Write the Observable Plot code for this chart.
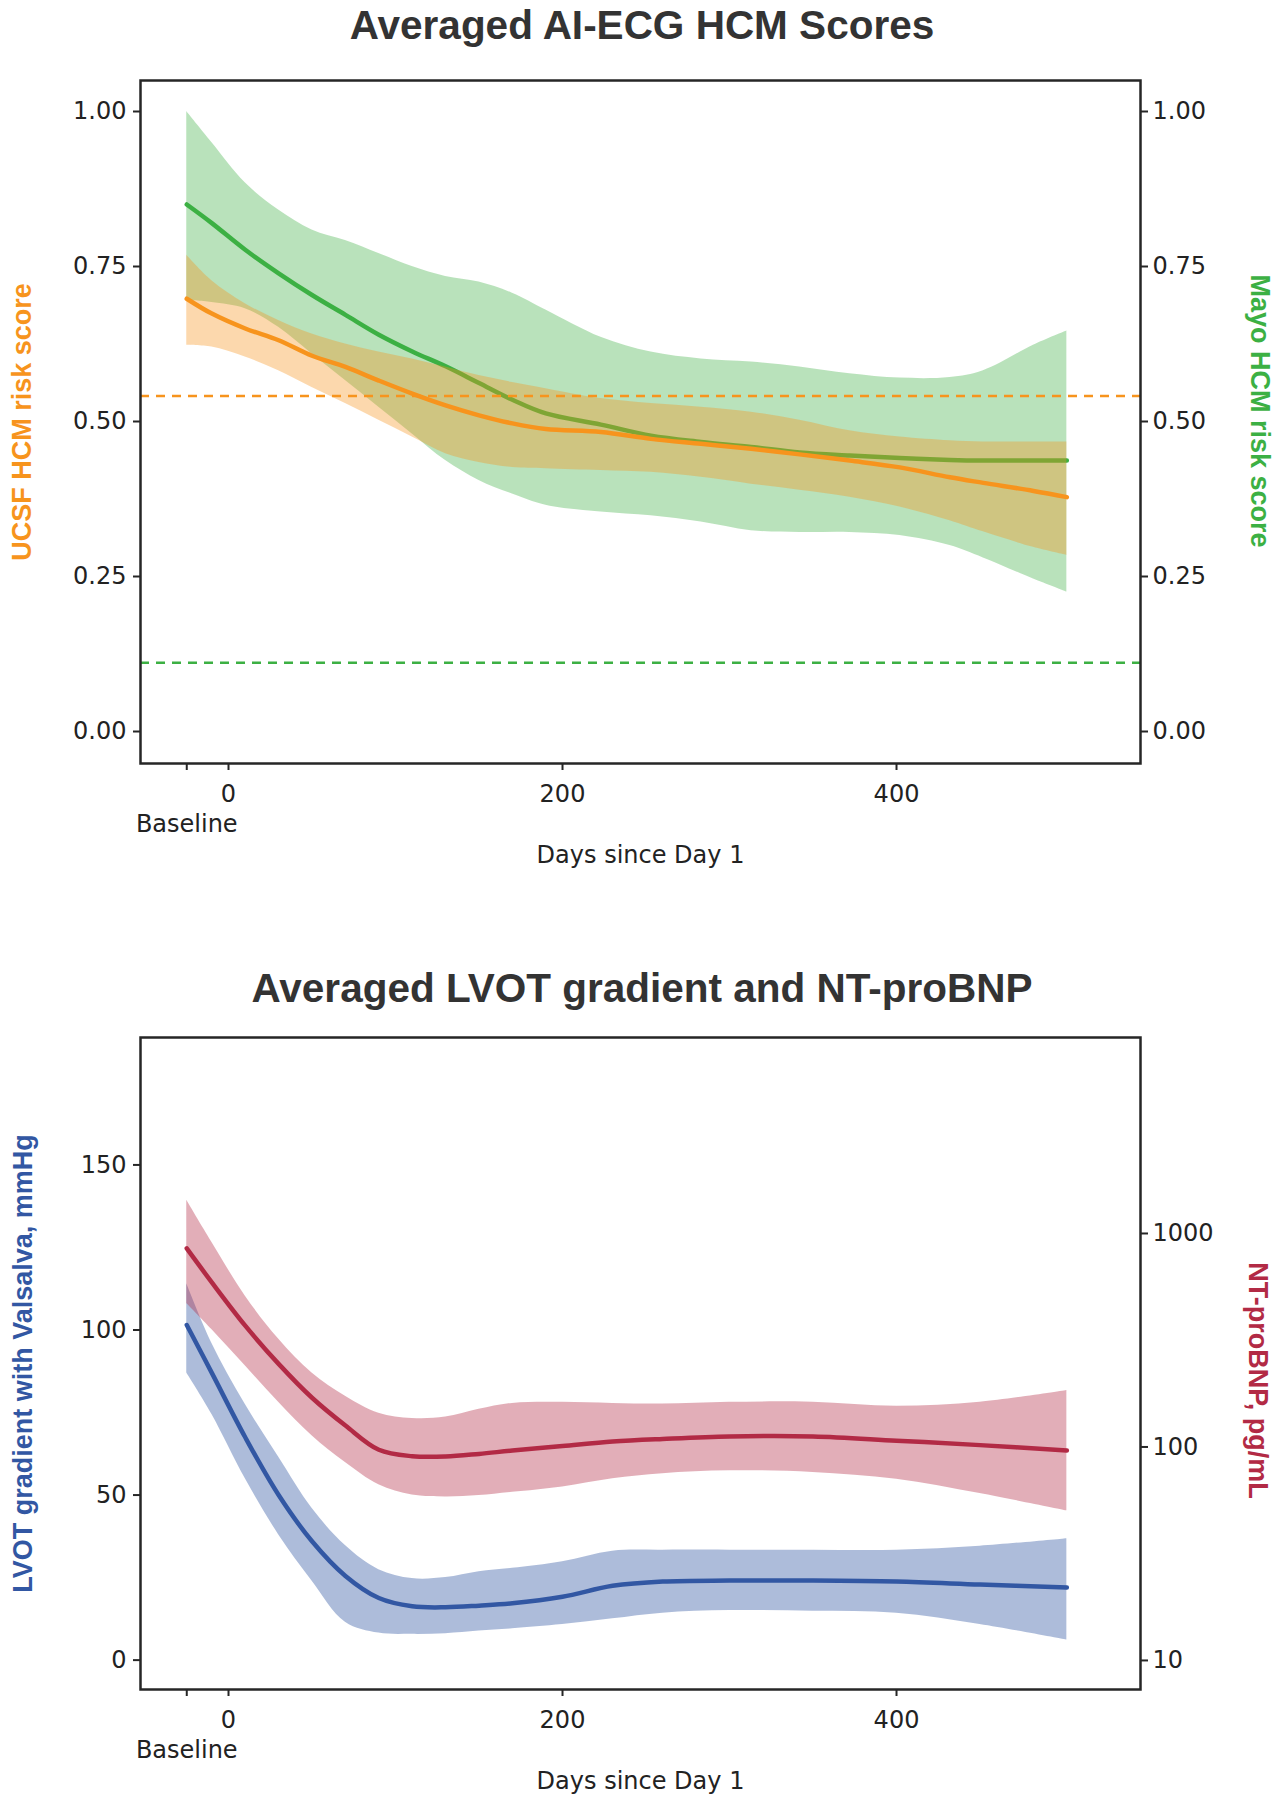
<!DOCTYPE html>
<html>
<head>
<meta charset="utf-8">
<script src="https://cdn.jsdelivr.net/npm/d3@7/dist/d3.min.js"></script>
<script src="https://cdn.jsdelivr.net/npm/@observablehq/plot@0.6/dist/plot.umd.min.js"></script>
<style>
  html, body { margin: 0; padding: 0; background: #fff; }
  #page { position: relative; width: 1284px; height: 1800px; overflow: hidden; background: #fff; }
  .title { position: absolute; left: 0; width: 1284px; text-align: center; font-family: "Liberation Sans", Arial, sans-serif; font-weight: bold; font-size: 40.5px; line-height: 40px; color: #333; }
  .chart { position: absolute; left: 0; width: 1284px; height: 900px; }
  .chart svg { position: absolute; left: 0; top: 0; }
</style>
</head>
<body>
<div id="page">
  <div class="title" id="t1" style="top:5px">Averaged AI-ECG HCM Scores</div>
  <div class="chart" id="c1" style="top:0px"></div>
  <div class="title" id="t2" style="top:968px">Averaged LVOT gradient and NT-proBNP</div>
  <div class="chart" id="c2" style="top:900px"></div>
</div>
<script>
// ---------- Data: top chart (AI-ECG HCM scores) ----------
const scoreDays = [-25, -10, 10, 30, 50, 70, 90, 110, 130, 150, 170, 190, 223, 253, 283, 313, 342, 372, 402, 432, 452, 482, 502];
const mayoScore = [0.850, 0.820, 0.777, 0.739, 0.704, 0.672, 0.640, 0.613, 0.589, 0.562, 0.535, 0.513, 0.495, 0.477, 0.467, 0.459, 0.450, 0.445, 0.441, 0.438, 0.437, 0.437, 0.437];
const mayoUpper = [1.000, 0.950, 0.885, 0.841, 0.809, 0.792, 0.771, 0.750, 0.734, 0.725, 0.707, 0.680, 0.636, 0.612, 0.601, 0.596, 0.588, 0.577, 0.570, 0.571, 0.582, 0.623, 0.646];
const mayoLower = [0.695, 0.692, 0.682, 0.652, 0.609, 0.566, 0.523, 0.480, 0.437, 0.405, 0.383, 0.365, 0.354, 0.348, 0.338, 0.324, 0.321, 0.321, 0.316, 0.300, 0.280, 0.246, 0.225];
const ucsfScore = [0.698, 0.674, 0.650, 0.631, 0.606, 0.588, 0.566, 0.545, 0.526, 0.510, 0.497, 0.488, 0.483, 0.472, 0.464, 0.456, 0.447, 0.437, 0.426, 0.410, 0.401, 0.388, 0.378];
const ucsfUpper = [0.768, 0.727, 0.690, 0.663, 0.641, 0.625, 0.612, 0.601, 0.588, 0.574, 0.563, 0.553, 0.537, 0.529, 0.523, 0.515, 0.502, 0.485, 0.475, 0.469, 0.467, 0.467, 0.467];
const ucsfLower = [0.623, 0.620, 0.604, 0.582, 0.555, 0.529, 0.502, 0.475, 0.448, 0.434, 0.426, 0.424, 0.421, 0.418, 0.410, 0.399, 0.389, 0.378, 0.362, 0.340, 0.322, 0.297, 0.284];
const ucsfThreshold = 0.541;
const mayoThreshold = 0.111;

// ---------- Data: bottom chart (LVOT gradient & NT-proBNP) ----------
const labDays   = [-25, -10, 10, 30, 50, 70, 90, 110, 130, 150, 170, 200, 230, 260, 300, 350, 400, 450, 502];
const lvotMean  = [101.5, 87, 67.5, 50, 36, 25.5, 18.8, 16.3, 16.0, 16.5, 17.2, 19.2, 22.5, 23.8, 24.1, 24.1, 23.8, 22.9, 22];
const lvotUpper = [114, 96, 77.5, 61.5, 46, 34.7, 27.4, 24.7, 25, 26.8, 27.8, 29.8, 33, 33.3, 33.3, 33.3, 33.3, 34.5, 36.8];
const lvotLower = [87, 74.5, 55, 38, 24, 11.5, 8.2, 7.8, 8, 8.8, 9.5, 10.8, 12.5, 14.2, 15, 14.8, 14.2, 10.8, 6.1];
const bnpMean   = [851, 590, 370, 245, 170, 126, 97, 90.5, 90.2, 92.8, 96.2, 101, 106, 109, 112, 112, 107, 102, 96.2];
const bnpUpper  = [1430, 910, 510, 320, 222, 173, 144, 136, 138, 150, 160, 162, 160, 159, 162, 162, 155, 162, 184];
const bnpLower  = [470, 355, 240, 162, 113, 84.5, 66.5, 59.5, 58.3, 59.2, 61.3, 65, 71, 75, 77.4, 76, 70.6, 60.5, 50.2];

// ---------- Axis ticks & labels ----------
const baselineDay = -25;
const xTicks = [-25, 0, 200, 400];
const scoreTicks = [0, 0.25, 0.5, 0.75, 1.0];
const lvotTicks = [0, 50, 100, 150];
const bnpTicks = [10, 100, 1000];
const xLabel = "Days since Day 1";
const baselineLabel = "Baseline";
const ucsfLabel = "UCSF HCM risk score";
const mayoLabel = "Mayo HCM risk score";
const lvotLabel = "LVOT gradient with Valsalva, mmHg";
const bnpLabel = "NT-proBNP, pg/mL";

// ---------- Styles ----------
const ORANGE = "#f7941d";
const GREEN = "#3cb043";
const BLUE = "#3257a3";
const RED = "#b22a45";
const AXIS = "#262626";
const curve = "catmull-rom";
const xDomain = [-52.7, 546.1];
const LW = 4.5;
const baseStyle = {fontFamily: "'DejaVu Sans', sans-serif", fontSize: "24px", color: "#222", background: "transparent", overflow: "visible"};
const titleFont = {fontFamily: "'Liberation Sans', Arial, sans-serif", fontWeight: "bold", fontSize: 27, textAnchor: "middle", lineAnchor: "middle"};

const scoreData = scoreDays.map((d, i) => ({day: d, mayo: mayoScore[i], mayoHi: mayoUpper[i], mayoLo: mayoLower[i], ucsf: ucsfScore[i], ucsfHi: ucsfUpper[i], ucsfLo: ucsfLower[i]}));
const labData = labDays.map((d, i) => ({day: d, lvot: lvotMean[i], lvotHi: lvotUpper[i], lvotLo: lvotLower[i], bnp: bnpMean[i], bnpHi: bnpUpper[i], bnpLo: bnpLower[i]}));

const fmt2 = d3.format(".2f");

function xAxisMarks() {
  return [
    Plot.axisX({ticks: xTicks, tickFormat: d => d === baselineDay ? "" : String(d), tickSize: 7, tickPadding: 14, strokeWidth: 2, stroke: AXIS, label: null}),
    Plot.text([baselineDay], {x: d => d, text: () => baselineLabel, frameAnchor: "bottom", textAnchor: "middle", lineAnchor: "top", dy: 51, fill: "#222"}),
    Plot.text([xLabel], {frameAnchor: "bottom", textAnchor: "middle", lineAnchor: "top", dy: 82, fill: "#222"})
  ];
}

// ---------- Chart 1 ----------
const chart1 = Plot.plot({
  width: 1284, height: 900,
  marginLeft: 140, marginRight: 144, marginTop: 80, marginBottom: 137,
  style: baseStyle,
  x: {domain: xDomain},
  y: {domain: [-0.0516, 1.05]},
  marks: [
    Plot.areaY(scoreData, {x: "day", y1: "mayoLo", y2: "mayoHi", fill: GREEN, fillOpacity: 0.36, curve}),
    Plot.lineY(scoreData, {x: "day", y: "mayo", stroke: GREEN, strokeWidth: LW, curve}),
    Plot.areaY(scoreData, {x: "day", y1: "ucsfLo", y2: "ucsfHi", fill: ORANGE, fillOpacity: 0.36, curve}),
    Plot.lineY(scoreData, {x: "day", y: "ucsf", stroke: ORANGE, strokeWidth: LW, curve}),
    Plot.ruleY([ucsfThreshold], {stroke: ORANGE, strokeWidth: 2.5, strokeDasharray: "9,7"}),
    Plot.ruleY([mayoThreshold], {stroke: GREEN, strokeWidth: 2.5, strokeDasharray: "9,7"}),
    Plot.frame({stroke: AXIS, strokeWidth: 2.5}),
    ...xAxisMarks(),
    Plot.axisY({anchor: "left", ticks: scoreTicks, tickFormat: fmt2, tickSize: 7, tickPadding: 7, strokeWidth: 2, stroke: AXIS, label: null}),
    Plot.axisY({anchor: "right", ticks: scoreTicks, tickFormat: fmt2, tickSize: 7, tickPadding: 5, strokeWidth: 2, stroke: AXIS, label: null}),
    Plot.text([ucsfLabel], {frameAnchor: "left", rotate: -90, dx: -118, fill: ORANGE, ...titleFont}),
    Plot.text([mayoLabel], {frameAnchor: "right", rotate: 90, dx: 119, dy: -11, fill: GREEN, ...titleFont})
  ]
});
document.getElementById("c1").appendChild(chart1);

// ---------- Chart 2 (two overlaid plots sharing x, with separate y scales) ----------
const dims2 = {width: 1284, height: 900, marginLeft: 140, marginRight: 144, marginTop: 137, marginBottom: 111};
const chart2a = Plot.plot({
  ...dims2,
  style: baseStyle,
  x: {domain: xDomain},
  y: {domain: [-8.9, 188.6]},
  marks: [
    Plot.areaY(labData, {x: "day", y1: "lvotLo", y2: "lvotHi", fill: BLUE, fillOpacity: 0.4, curve}),
    Plot.lineY(labData, {x: "day", y: "lvot", stroke: BLUE, strokeWidth: LW, curve}),
    Plot.frame({stroke: AXIS, strokeWidth: 2.5}),
    ...xAxisMarks(),
    Plot.axisY({anchor: "left", ticks: lvotTicks, tickFormat: d => String(d), tickSize: 7, tickPadding: 7, strokeWidth: 2, stroke: AXIS, label: null}),
    Plot.text([lvotLabel], {frameAnchor: "left", rotate: -90, dx: -117, fill: BLUE, ...titleFont})
  ]
});
const chart2b = Plot.plot({
  ...dims2,
  style: baseStyle,
  x: {domain: xDomain, axis: null},
  y: {type: "log", domain: [7.31, 8279]},
  marks: [
    Plot.areaY(labData, {x: "day", y1: "bnpLo", y2: "bnpHi", fill: RED, fillOpacity: 0.38, curve}),
    Plot.lineY(labData, {x: "day", y: "bnp", stroke: RED, strokeWidth: LW, curve}),
    Plot.axisY({anchor: "right", ticks: bnpTicks, tickFormat: d => String(d), tickSize: 7, tickPadding: 5, strokeWidth: 2, stroke: AXIS, label: null}),
    Plot.text([bnpLabel], {frameAnchor: "right", rotate: 90, dx: 117, dy: 17, fill: RED, ...titleFont})
  ]
});
const c2 = document.getElementById("c2");
c2.appendChild(chart2a);
c2.appendChild(chart2b);
</script>
</body>
</html>
